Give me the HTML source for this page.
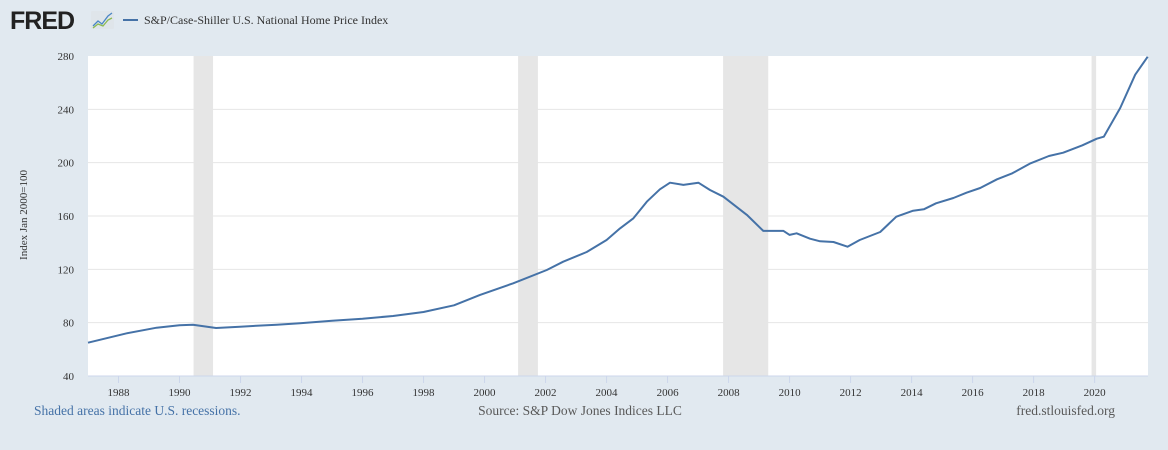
<!DOCTYPE html>
<html><head><meta charset="utf-8">
<style>
html,body{margin:0;padding:0;background:#e1e9f0;}
svg{display:block;font-family:"Liberation Serif",serif;}
</style></head>
<body>
<svg id="chart" width="1168" height="450" viewBox="0 0 1168 450" xmlns="http://www.w3.org/2000/svg">
<rect width="1168" height="450" fill="#e1e9f0"/>
<g>
<text x="10" y="29" font-family="Liberation Sans, sans-serif" font-weight="bold" font-size="25" fill="#222" letter-spacing="-1">FRED</text>
<rect x="91" y="11" width="23" height="18" fill="#dfe5ea" rx="1"/>
<polyline points="93,26 98,21 102,24 108,16 112,13" fill="none" stroke="#4a86c5" stroke-width="1.3"/>
<polyline points="93,28 98,24 103,26 108,20 112,18" fill="none" stroke="#8cba52" stroke-width="1.3"/>
</g>
<g>
<line x1="123" y1="20" x2="138" y2="20" stroke="#4572a7" stroke-width="2"/>
<text x="144" y="24" font-size="12" fill="#333">S&amp;P/Case-Shiller U.S. National Home Price Index</text>
</g>
<rect id="plot" x="88" y="56" width="1060" height="320" fill="#fff"/>
<g id="rec"></g><g id="grid"></g><g id="xt"></g><g id="yt"></g>
<text transform="translate(27,215) rotate(-90)" text-anchor="middle" font-size="11" fill="#333">Index Jan 2000=100</text>
<path id="line" fill="none" stroke="#4572a7" stroke-width="2" stroke-linejoin="round"/>
<text x="34" y="415" font-size="13.5" fill="#4572a7">Shaded areas indicate U.S. recessions.</text>
<text x="580" y="415" text-anchor="middle" font-size="13.5" fill="#595959">Source: S&amp;P Dow Jones Indices LLC</text>
<text x="1115" y="415" text-anchor="end" font-size="13.5" fill="#595959">fred.stlouisfed.org</text>
</svg>
<script>
const years = [1987.0,1988.27,1989.25,1990.0,1990.44,1991.2,1991.98,1993.19,1993.95,1995.0,1996.0,1997.0,1998.0,1999.0,1999.85,2000.94,2002.04,2002.58,2003.35,2004.0,2004.44,2004.88,2005.32,2005.75,2006.08,2006.52,2007.01,2007.39,2007.83,2008.6,2009.14,2009.36,2009.8,2010.0,2010.23,2010.67,2011.0,2011.44,2011.9,2012.3,2012.97,2013.5,2014.05,2014.4,2014.8,2015.37,2015.8,2016.25,2016.8,2017.3,2017.9,2018.5,2018.97,2019.6,2020.07,2020.3,2020.84,2021.33,2021.74];
const values = [65,72,76.2,78,78.5,76,77,78.5,79.5,81.5,83,85,88,93,100.8,109.5,119.5,125.7,133,142,150.7,158.3,170.7,180,185,183.3,185,179.5,174.5,160.8,148.8,148.8,148.8,145.8,147,143,141,140.5,137,142,148,159.5,164,165,169.5,173.5,177.5,181,187.5,192,199.5,205,207.5,213,218,219.5,241,266,279.5];
const recStart = [1990.46,2001.1,2007.82,2019.9];
const recEnd = [1991.1,2001.75,2009.3,2020.05];
const yTicks = [40,80,120,160,200,240,280];
const xTicks = [1988,1990,1992,1994,1996,1998,2000,2002,2004,2006,2008,2010,2012,2014,2016,2018,2020];
const NS="http://www.w3.org/2000/svg";
const X0=88,X1=1148,Y0=376,Y1=56,yr0=1987,yr1=2021.75,v0=40,v1=280;
const xs=y=>X0+(y-yr0)/(yr1-yr0)*(X1-X0);
const ys=v=>Y0-(v-v0)/(v1-v0)*(Y0-Y1);
function mk(tag,attrs,parent){const e=document.createElementNS(NS,tag);for(const k in attrs)e.setAttribute(k,attrs[k]);document.getElementById(parent).appendChild(e);return e;}
recStart.forEach((s,i)=>{
  const r=mk('rect',{x:xs(s),y:Y1,width:xs(recEnd[i])-xs(s),height:Y0-Y1,fill:'#e6e6e6'},'rec');
  
  
});
yTicks.forEach(v=>{
  if(v>40&&v<280){const l=mk('line',{x1:X0,x2:X1,y1:ys(v),y2:ys(v),stroke:'#e6e6e6','stroke-width':1},'grid');
  
  }
  const t=mk('text',{x:74,y:ys(v)+4,'text-anchor':'end','font-size':11,fill:'#333'},'yt');
  t.textContent=v;
  
  
});
const ax=mk('line',{x1:X0,x2:X1,y1:Y0,y2:Y0,stroke:'#ccd6eb','stroke-width':1},'xt');


xTicks.forEach(y=>{
  const l=mk('line',{x1:xs(y),x2:xs(y),y1:Y0,y2:Y0+7,stroke:'#ccd6eb','stroke-width':1},'xt');
  
  
  const t=mk('text',{x:xs(y),y:396,'text-anchor':'middle','font-size':11,fill:'#333'},'xt');
  t.textContent=y;
  
  
});
document.getElementById('line').setAttribute('d',years.map((y,i)=>(i?'L':'M')+xs(y).toFixed(1)+','+ys(values[i]).toFixed(1)).join(''));
</script>
</body></html>
